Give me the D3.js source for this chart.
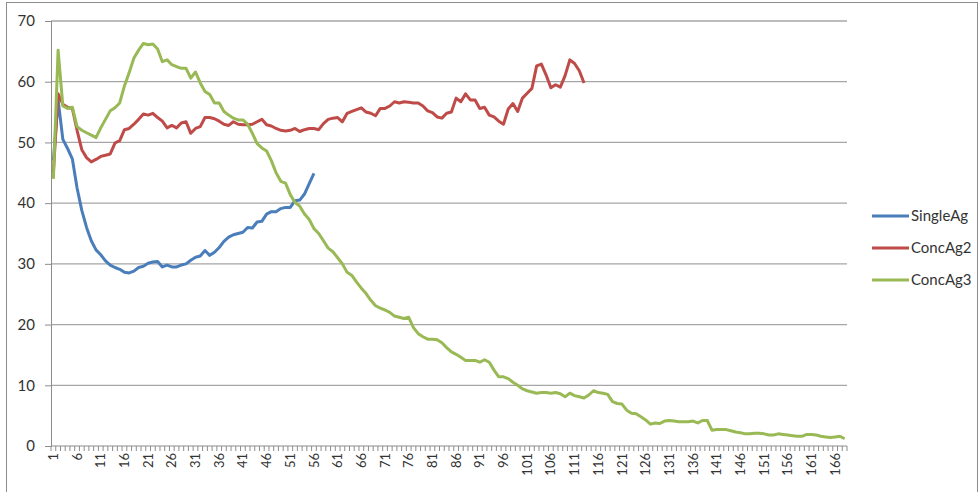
<!DOCTYPE html>
<html>
<head>
<meta charset="utf-8">
<script src="https://cdn.jsdelivr.net/npm/d3@7"></script>
<style>
  body { margin: 0; background: #fff; }
  text { font-family: Lato, "Noto Sans", sans-serif; fill: #333; }
</style>
</head>
<body>
<svg id="chart" width="980" height="492"></svg>
<script>
// series values (index 1..n)
var singleAg = [47, 57, 50.5, 49, 47.3, 42.5, 38.8, 36, 33.8, 32.3, 31.5, 30.5, 29.8, 29.4, 29.1, 28.6, 28.5, 28.8, 29.4, 29.6,
  30.1, 30.3, 30.4, 29.5, 29.8, 29.5, 29.5, 29.8, 30, 30.6, 31.1, 31.3, 32.2, 31.4, 31.9, 32.7, 33.7, 34.4, 34.8, 35.0,
  35.2, 36.0, 35.9, 36.9, 37.0, 38.2, 38.6, 38.6, 39.1, 39.3, 39.3, 40.4, 40.5, 41.5, 43.2, 44.9];

var concAg2 = [45, 58, 56.3, 55.8, 55.6, 52, 48.8, 47.5, 46.8, 47.2, 47.7, 47.9, 48.1, 49.9, 50.3, 52.1, 52.3, 53.0, 53.8, 54.7,
  54.5, 54.8, 54.1, 53.5, 52.4, 52.8, 52.4, 53.2, 53.4, 51.5, 52.3, 52.6, 54.1, 54.1, 53.9, 53.5, 53.0, 52.8, 53.4, 53.0,
  52.9, 52.9, 53.0, 53.4, 53.8, 52.9, 52.7, 52.3, 52.0, 51.9, 52.0, 52.3, 51.8, 52.1, 52.3, 52.3, 52.1, 53.1, 53.8, 54.0,
  54.1, 53.4, 54.8, 55.1, 55.4, 55.7, 55.0, 54.8, 54.4, 55.6, 55.6, 56.0, 56.7, 56.5, 56.7, 56.6, 56.5, 56.5, 56.0, 55.2,
  54.9, 54.2, 54.0, 54.8, 55.0, 57.3, 56.7, 58.0, 57.0, 57.0, 55.6, 55.8, 54.5, 54.2, 53.5, 53.0, 55.5, 56.4, 55.1, 57.3,
  58.1, 58.9, 62.6, 62.9, 61.1, 59.0, 59.5, 59.1, 61.0, 63.6, 63.0, 61.8, 59.8];

var concAg3 = [44, 65.2, 56, 55.6, 55.8, 52.6, 52.0, 51.6, 51.2, 50.8, 52.4, 53.8, 55.2, 55.7, 56.5, 59.3, 61.5, 63.9, 65.2, 66.3,
  66.1, 66.2, 65.4, 63.3, 63.6, 62.8, 62.5, 62.2, 62.2, 60.6, 61.6, 59.8, 58.4, 57.9, 56.5, 56.5, 55.1, 54.5, 54.0, 53.7,
  53.7, 53.0, 51.5, 49.8, 49.1, 48.6, 47.0, 45.0, 43.6, 43.3, 41.4, 40.1, 39.5, 38.2, 37.3, 35.8, 35.0, 33.8, 32.6, 32.0,
  31.0, 30.0, 28.6, 28.1, 27.0, 26.0, 25.1, 24.0, 23.1, 22.7, 22.4, 22.0, 21.4, 21.2, 21.0, 21.2, 19.5, 18.5, 18.0, 17.6,
  17.6, 17.5, 17.0, 16.2, 15.5, 15.1, 14.6, 14.1, 14.1, 14.1, 13.8, 14.2, 13.8, 12.5, 11.4, 11.4, 11.1, 10.5, 10.0, 9.4,
  9.1, 8.9, 8.7, 8.8, 8.8, 8.7, 8.8, 8.6, 8.1, 8.7, 8.3, 8.1, 7.9, 8.4, 9.1, 8.8, 8.7, 8.5, 7.3, 7.0,
  6.9, 5.9, 5.4, 5.3, 4.8, 4.3, 3.6, 3.8, 3.7, 4.1, 4.2, 4.1, 4.0, 4.0, 4.0, 4.1, 3.8, 4.2, 4.2, 2.6,
  2.7, 2.7, 2.7, 2.5, 2.3, 2.2, 2.0, 2.0, 2.1, 2.1, 2.0, 1.8, 1.8, 2.0, 1.9, 1.8, 1.7, 1.6, 1.6, 1.9,
  1.9, 1.8, 1.6, 1.5, 1.4, 1.5, 1.6, 1.2];

var seriesNames = ["SingleAg", "ConcAg2", "ConcAg3"];
var seriesColors = ["#4a7ebb", "#be4b48", "#98b954"];
var yTicks = [0, 10, 20, 30, 40, 50, 60, 70];
var categories = d3.range(1, concAg3.length + 1);
var xLabels = categories.filter(c => (c - 1) % 5 === 0);

var margin = { top: 21, left: 51, right: 133, bottom: 46 };
var width = 980 - margin.left - margin.right;
var height = 492 - margin.top - margin.bottom;

var svg = d3.select("#chart");

// outer chart border
svg.append("rect")
    .attr("x", 6.5).attr("y", 2.5)
    .attr("width", 971).attr("height", 492)
    .attr("fill", "none")
    .attr("stroke", "#8c8c8c");

var g = svg.append("g")
    .attr("transform", "translate(" + margin.left + "," + margin.top + ")");

var x = d3.scaleBand().domain(categories).range([0, width]).padding(0);
var y = d3.scaleLinear().domain([0, 70]).range([height, 0]);

// horizontal gridlines
g.append("g")
    .selectAll("line")
    .data(yTicks.filter(d => d > 0))
    .enter().append("line")
    .attr("x1", 0).attr("x2", width)
    .attr("y1", d => y(d)).attr("y2", d => y(d))
    .attr("stroke", "#a6a6a6")
    .attr("stroke-width", 1.3);

// y axis
var yAxis = g.append("g")
    .call(d3.axisLeft(y).tickValues(yTicks).tickSize(6).tickPadding(10));
yAxis.select(".domain").attr("stroke", "#8c8c8c");
yAxis.selectAll(".tick line").attr("stroke", "#8c8c8c");
yAxis.selectAll("text").style("font-size", "15px").attr("fill", "#333");

// x axis: tick marks on every category boundary
var xAxisG = g.append("g").attr("transform", "translate(0," + height + ")");
xAxisG.append("line")
    .attr("x1", 0).attr("x2", width)
    .attr("stroke", "#8c8c8c");
xAxisG.selectAll(".cat-tick")
    .data(categories.concat([null]))
    .enter().append("line")
    .attr("class", "cat-tick")
    .attr("x1", d => d === null ? width : x(d))
    .attr("x2", d => d === null ? width : x(d))
    .attr("y1", 0).attr("y2", 5)
    .attr("stroke", "#8c8c8c");

// x labels (every 5th category), rotated
var xLab = xAxisG.append("g")
    .call(d3.axisBottom(x).tickValues(xLabels).tickSize(0));
xLab.select(".domain").remove();
xLab.selectAll("text")
    .attr("transform", "rotate(-90)")
    .attr("x", -7)
    .attr("y", 0)
    .attr("dy", "0.35em")
    .attr("text-anchor", "end")
    .style("font-size", "13px")
    .attr("fill", "#333");

// lines
var line = d3.line()
    .x((d, i) => x(categories[i]) + x.bandwidth() / 2)
    .y(d => y(d));

[singleAg, concAg2, concAg3].forEach(function(vals, i) {
    g.append("path")
        .datum(vals)
        .attr("fill", "none")
        .attr("stroke", seriesColors[i])
        .attr("stroke-width", 3)
        .attr("stroke-linejoin", "round")
        .attr("d", line);
});

// legend
var legend = svg.append("g").attr("transform", "translate(872,216)");
seriesNames.forEach(function(name, i) {
    var row = legend.append("g").attr("transform", "translate(0," + (i * 32) + ")");
    row.append("line")
        .attr("x1", 0).attr("x2", 37)
        .attr("stroke", seriesColors[i])
        .attr("stroke-width", 3);
    row.append("text")
        .attr("x", 39)
        .attr("dy", "0.35em")
        .style("font-size", "15px")
        .text(name);
});
</script>
</body>
</html>
